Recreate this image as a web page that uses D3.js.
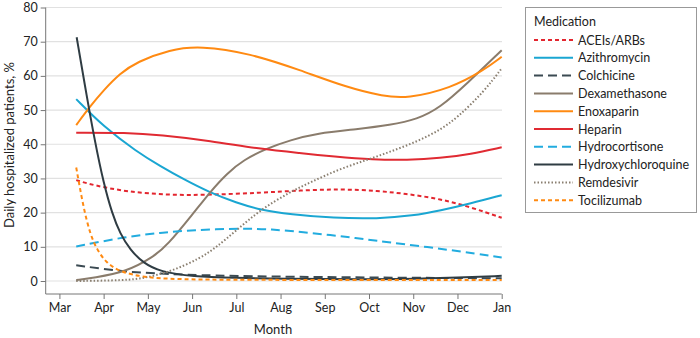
<!DOCTYPE html>
<html>
<head>
<meta charset="utf-8">
<script src="https://cdn.jsdelivr.net/npm/d3@7"></script>
<style>
  body { margin: 0; background: #fff; }
  svg { display: block; font-family: Lato, "Open Sans", sans-serif; }
</style>
</head>
<body>
<svg width="700" height="338"></svg>
<script>
// month index: 0 = Mar, 10 = Jan
var monthLabels = ["Mar", "Apr", "May", "Jun", "Jul", "Aug", "Sep", "Oct", "Nov", "Dec", "Jan"];
var yTicks = [0, 10, 20, 30, 40, 50, 60, 70, 80];

var medNames = ["ACEIs/ARBs", "Azithromycin", "Colchicine", "Dexamethasone", "Enoxaparin",
  "Heparin", "Hydrocortisone", "Hydroxychloroquine", "Remdesivir", "Tocilizumab"];

// [month, percent]
var aceis = [[0.38, 29.5], [0.77, 28], [1.52, 26.1], [2.5, 25.1], [3.41, 25.2], [4.54, 25.8], [5.45, 26.5], [6.35, 26.9], [7.2, 26.4], [7.9, 25.4], [8.61, 24], [9.3, 21.6], [10, 18.5]];
var azithro = [[0.38, 53.2], [1.0, 45.1], [1.75, 37.8], [2.28, 33.6], [2.8, 29.8], [3.41, 25.8], [4.0, 22.9], [4.54, 20.8], [5.22, 19.5], [6.2, 18.4], [7.2, 18.2], [8.0, 19.1], [8.61, 20.6], [9.3, 22.7], [10, 25.1]];
var colchicine = [[0.38, 4.6], [1.52, 2.6], [2.28, 2.2], [3.03, 1.7], [4.8, 1.3], [7, 1.0], [10, 0.8]];
var dexa = [[0.38, 0.3], [0.77, 0.9], [1.52, 2.7], [2.13, 7.1], [2.43, 10.3], [3.03, 19.8], [3.41, 26.1], [3.79, 31.5], [4.16, 35.4], [4.69, 38.8], [5.22, 41.2], [5.82, 43.2], [6.73, 44.4], [7.48, 45.6], [8.09, 47.3], [8.6, 50.6], [9.22, 57.8], [10, 67.5]];
var enox = [[0.38, 45.6], [0.69, 51], [1.0, 55.8], [1.37, 60.7], [1.75, 64.1], [2.5, 67.7], [3.18, 68.8], [4.31, 66.6], [5.44, 61.7], [6.5, 56.6], [7.33, 54], [7.86, 53.4], [8.84, 56.3], [9.6, 61.7], [10, 65.6]];
var heparin = [[0.38, 43.4], [1.52, 43.4], [2.28, 42.7], [3.41, 41], [4.54, 38.6], [5.45, 37.4], [6.2, 36.4], [7.1, 35.5], [7.86, 35.4], [8.61, 35.9], [9.3, 37.1], [10, 39.1]];
var hydrocort = [[0.38, 10.1], [1.52, 13], [2.28, 14.1], [3.0, 14.9], [4.16, 15.4], [4.8, 15.1], [5.45, 14.4], [6.5, 12.9], [7.33, 11.5], [8.84, 9.1], [10, 6.9]];
var hcq = [[0.39, 71.3], [0.62, 53.9], [0.81, 40.3], [1.0, 28.6], [1.19, 19.8], [1.37, 13.9], [1.6, 9.1], [1.9, 5.2], [2.28, 2.7], [3.0, 1.3], [4, 0.9], [5, 0.6], [7, 0.5], [8, 0.6], [9, 1.0], [10, 1.5]];
var remdesivir = [[0.38, 0], [1.5, 0.2], [1.9, 0.8], [2.51, 2.7], [3.18, 6.6], [3.56, 10], [4.0, 14.8], [4.54, 20.8], [5.22, 26.1], [5.7, 29], [6.3, 32.6], [6.95, 35.4], [7.5, 37.9], [8.09, 40.8], [8.61, 44.2], [9.0, 47.8], [9.6, 55.4], [10, 62.2]];
var tocilizumab = [[0.38, 33.2], [0.54, 21.7], [0.69, 13.9], [0.85, 9.1], [1.07, 5.2], [1.37, 2.7], [1.9, 1.1], [2.6, 0.5], [4, 0.3], [10, 0.3]];

var seriesData = [aceis, azithro, colchicine, dexa, enox, heparin, hydrocort, hcq, remdesivir, tocilizumab];
var colors = ["#e3262f", "#1aa6d2", "#3b4a52", "#8a7c6c", "#ff8a12", "#e02a32", "#22acdf", "#2f3c43", "#8a7f70", "#ff8a12"];
var dashes = ["4,3", null, "9,5", null, null, null, "9,5", null, "1.5,2", "4,3"];

var svg = d3.select("svg");

var x = d3.scaleLinear().domain([-0.31, 10]).range([45.7, 501.7]);
var y = d3.scaleLinear().domain([0, 80]).range([281, 7.5]);

// grid
svg.append("g").selectAll("line").data(yTicks).enter().append("line")
  .attr("x1", 46).attr("x2", 502)
  .attr("y1", d => y(d)).attr("y2", d => y(d))
  .attr("stroke", "#e1e1e1").attr("stroke-width", 1.2);

// y axis
var yAxis = svg.append("g").attr("transform", "translate(45.7,0)")
  .call(d3.axisLeft(y).tickValues(yTicks).tickSize(5).tickPadding(3));
yAxis.select(".domain").attr("d", "M0," + y(80) + "V294");

// x axis
var xAxis = svg.append("g").attr("transform", "translate(0,294)")
  .call(d3.axisBottom(x).tickValues(d3.range(11)).tickFormat(i => monthLabels[i]).tickSize(5).tickPadding(4));
xAxis.select(".domain").attr("d", "M45.7,0H501.7");

svg.selectAll(".tick text").attr("font-size", 12.5).attr("fill", "#222")
  .attr("font-family", "Lato, sans-serif");
svg.selectAll(".domain, .tick line").attr("stroke", "#777");

svg.append("text").attr("x", 273).attr("y", 334).attr("text-anchor", "middle")
  .attr("font-size", 13).attr("fill", "#222").text("Month");
svg.append("text").attr("transform", "translate(14,145) rotate(-90)")
  .attr("text-anchor", "middle").attr("font-size", 13).attr("fill", "#222")
  .text("Daily hospitalized patients, %");

// lines (smoothed)
var line = d3.line().x(d => x(d[0])).y(d => y(d[1])).curve(d3.curveBasis);
svg.append("g").selectAll("path").data(seriesData).enter().append("path")
  .attr("d", line)
  .attr("fill", "none")
  .attr("stroke", (d, i) => colors[i])
  .attr("stroke-width", 2)
  .attr("stroke-dasharray", (d, i) => dashes[i]);

// legend
var lg = svg.append("g");
lg.append("rect").attr("x", 525.5).attr("y", 7.5).attr("width", 171).attr("height", 205)
  .attr("fill", "#fff").attr("stroke", "#999");
lg.append("text").attr("x", 534).attr("y", 26).attr("font-size", 12.5).attr("fill", "#222").text("Medication");
var items = lg.selectAll("g.item").data(medNames).enter().append("g")
  .attr("transform", (d, i) => "translate(0," + (40 + i * 17.8) + ")");
items.append("line").attr("x1", 534).attr("x2", 573)
  .attr("stroke", (d, i) => colors[i]).attr("stroke-width", 2)
  .attr("stroke-dasharray", (d, i) => dashes[i]);
items.append("text").attr("x", 578).attr("y", 4.5).attr("font-size", 12.5).attr("fill", "#222").text(d => d);
</script>
</body>
</html>
